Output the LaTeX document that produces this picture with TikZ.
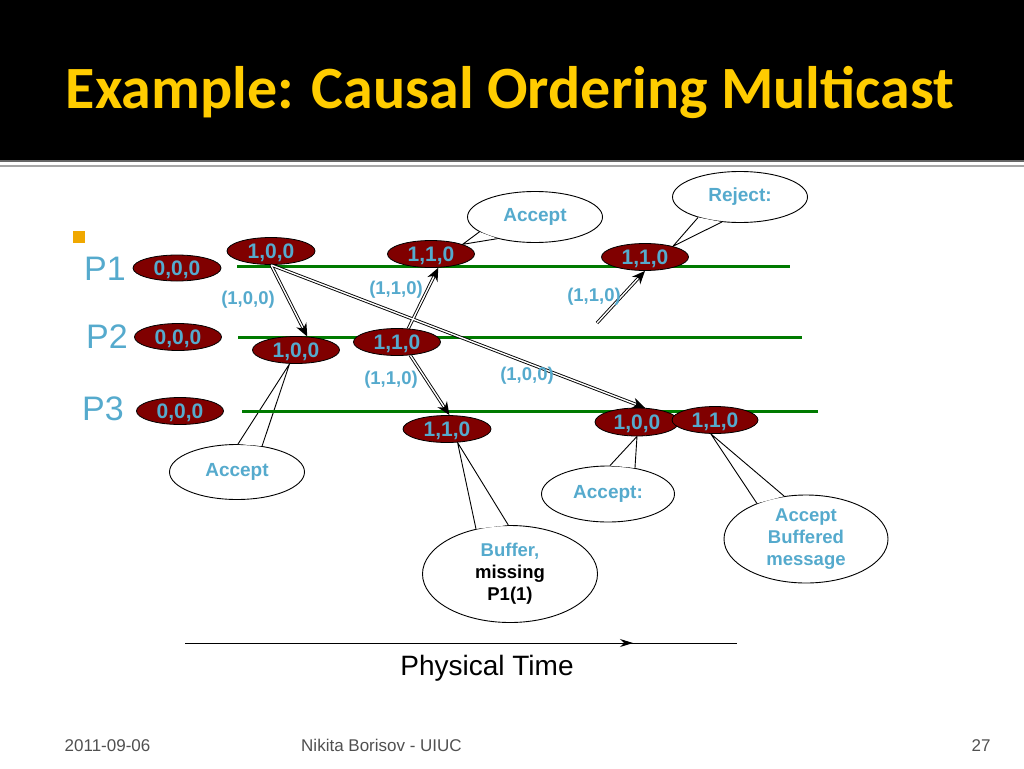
\documentclass[tikz,border=0pt]{standalone}
\usepackage{fontspec}
\setmainfont{Liberation Sans}
\newfontfamily\titlefont{Carlito}
\usetikzlibrary{shapes.geometric,arrows.meta}
\definecolor{tyellow}{RGB}{255,204,0}
\definecolor{tblue}{RGB}{85,170,205}
\definecolor{evred}{RGB}{128,0,0}
\definecolor{lgreen}{RGB}{0,122,0}
\definecolor{bullet}{RGB}{240,168,0}
\definecolor{footgray}{RGB}{80,80,80}
\pgfdeclarelayer{callouts}
\pgfdeclarelayer{lines}
\pgfsetlayers{callouts,lines,main}
\tikzset{
  ev/.style={ellipse, draw=black, line width=0.8pt, fill=evred, minimum width=88pt, minimum height=27pt, inner sep=0pt, text depth=0pt, text=tblue, font=\fontsize{21}{24}\selectfont\bfseries},
  callout/.style={ellipse, draw=black, line width=0.9pt, fill=white, inner sep=0pt, text=tblue, align=center, font=\fontsize{19}{22}\selectfont\bfseries},
  wedge/.style={draw=black, line width=0.9pt, line join=miter},
  msgout/.style={draw=black, line width=3.2pt, -{Stealth[length=13pt,width=11pt]}},
  msgin/.style={draw=white, line width=1.4pt, shorten >=10pt, shorten <=0.3pt},
  lbl/.style={text=tblue, inner sep=0pt, font=\fontsize{18.5}{22}\selectfont\bfseries},
  proc/.style={text=tblue, inner sep=0pt, font=\fontsize{34}{36}\selectfont},
  timeline/.style={draw=lgreen, line width=3pt},
  foot/.style={text=footgray, inner sep=0pt, anchor=base, font=\fontsize{17}{20}\selectfont}
}
\begin{document}
\begin{tikzpicture}[x=1pt,y=-1pt]
\useasboundingbox (0,0) rectangle (1024,768);
% title band
\fill[black] (0,0) rectangle (1024,160);
\fill[black!60] (0,160) rectangle (1024,161.5);
\fill[black!35] (0,165) rectangle (1024,167);
\node[anchor=base, inner sep=0pt, text=tyellow, font=\titlefont\bfseries\fontsize{60}{72}\selectfont] (title) at (510,108) {Example: Causal Ordering Multicast};
% bullet
\fill[bullet] (73,231) rectangle (85,243);
% process labels
\node[proc] (P1) at (105,269) {P1};
\node[proc] (P2) at (107,337) {P2};
\node[proc] (P3) at (103,409) {P3};
% timelines
\begin{pgfonlayer}{lines}
\draw[timeline] (237,266) -- (790,266);
\draw[timeline] (238,337.5) -- (802,337.5);
\draw[timeline] (242,411.5) -- (818,411.5);
\end{pgfonlayer}
% initial states
\node[ev, minimum height=26pt] (p1z) at (177,268) {0,0,0};
\node[ev, minimum width=87pt] (p2z) at (178,337) {0,0,0};
\node[ev, minimum width=87pt] (p3z) at (180,411) {0,0,0};
% events
\node[ev] (p1a) at (271,251) {1,0,0};
\node[ev, minimum width=87pt] (p2a) at (296,350) {1,0,0};
\node[ev, minimum width=87pt] (p2b) at (397,342) {1,1,0};
\node[ev, minimum width=87pt] (p1b) at (431,254) {1,1,0};
\node[ev, minimum width=87pt] (p1c) at (645,257) {1,1,0};
\node[ev] (p3b) at (447,429) {1,1,0};
\node[ev, minimum width=84pt, minimum height=28pt] (p3a) at (637,422) {1,0,0};
\node[ev, minimum width=86pt] (p3c) at (715,420) {1,1,0};
% messages (double lines with black heads)
\coordinate (f5) at (597,323);
\draw[msgout] (p1a.south) -- (p2a.50);
\draw[msgout] (p1a.south) -- (p3a.60);
\draw[msgout] (p2b.50) -- (p1b.298);
\draw[msgout] (p2b.315) -- (p3b.80);
\draw[msgout] (f5) -- (p1c.south);
\draw[msgin] (p1a.south) -- (p2a.50);
\draw[msgin] (p1a.south) -- (p3a.60);
\draw[msgin] (p2b.50) -- (p1b.298);
\draw[msgin] (p2b.315) -- (p3b.80);
\draw[msgin] (f5) -- (p1c.south);
% message labels
\node[lbl] (l1) at (248,300) {(1,0,0)};
\node[lbl] (l2) at (396,290) {(1,1,0)};
\node[lbl] (l3) at (594,297) {(1,1,0)};
\node[lbl] (l4) at (391,380) {(1,1,0)};
\node[lbl] (l5) at (527,376) {(1,0,0)};
% callouts
\begin{pgfonlayer}{callouts}
\node[callout, minimum width=135pt, minimum height=51pt] (cA1) at (535,217) {Accept};
\fill[white] (cA1.195) -- (p1b.17) -- (cA1.210) -- cycle;
\draw[wedge] (cA1.195) -- (p1b.17) -- (cA1.210);
\node[callout, minimum width=135pt, minimum height=51pt] (cR) at (740,197) {Reject:};
\fill[white] (cR.206) -- (p1c.21) -- (cR.234) -- cycle;
\draw[wedge] (cR.206) -- (p1c.21) -- (cR.234);
\node[callout, minimum width=135pt, minimum height=55pt] (cA2) at (237,472) {Accept};
\fill[white] (cA2.88) -- (p2a.245) -- (cA2.46) -- cycle;
\draw[wedge] (cA2.88) -- (p2a.245) -- (cA2.46);
\node[callout, minimum width=175pt, minimum height=97pt, font=\fontsize{18.5}{22}\selectfont\bfseries] (cB) at (510,574) {Buffer,\\\textcolor{black}{missing}\\\textcolor{black}{P1(1)}};
\fill[white] (cB.127) -- (p3b.308) -- (cB.92) -- cycle;
\draw[wedge] (cB.127) -- (p3b.308) -- (cB.92);
\node[callout, minimum width=133pt, minimum height=56pt] (cA3) at (608,494) {Accept:};
\fill[white] (cA3.86) -- (p3a.270) -- (cA3.44) -- cycle;
\draw[wedge] (cA3.86) -- (p3a.270) -- (cA3.44);
\node[callout, minimum width=164pt, minimum height=88pt, font=\fontsize{18.5}{22}\selectfont\bfseries] (cAB) at (806,539) {Accept\\Buffered\\message};
\fill[white] (cAB.144) -- (p3c.253) -- (cAB.117) -- cycle;
\draw[wedge] (cAB.144) -- (p3c.253) -- (cAB.117);
\end{pgfonlayer}
% physical time
\coordinate (t0) at (185,643);
\coordinate (t1) at (737,643);
\coordinate (tm) at (633,643);
\draw[line width=0.9pt] (t0) -- (t1);
\draw[line width=0.9pt, -{Stealth[length=13pt,width=8pt]}] (t0) -- (tm);
\node[inner sep=0pt, font=\fontsize{28}{32}\selectfont] (pt) at (487,668) {Physical Time};
% footer
\node[foot] (d) at (107.5,751) {2011-09-06};
\node[foot] (a) at (381.5,751) {Nikita Borisov - UIUC};
\node[foot] (n) at (981,751) {27};
\end{tikzpicture}
\end{document}
